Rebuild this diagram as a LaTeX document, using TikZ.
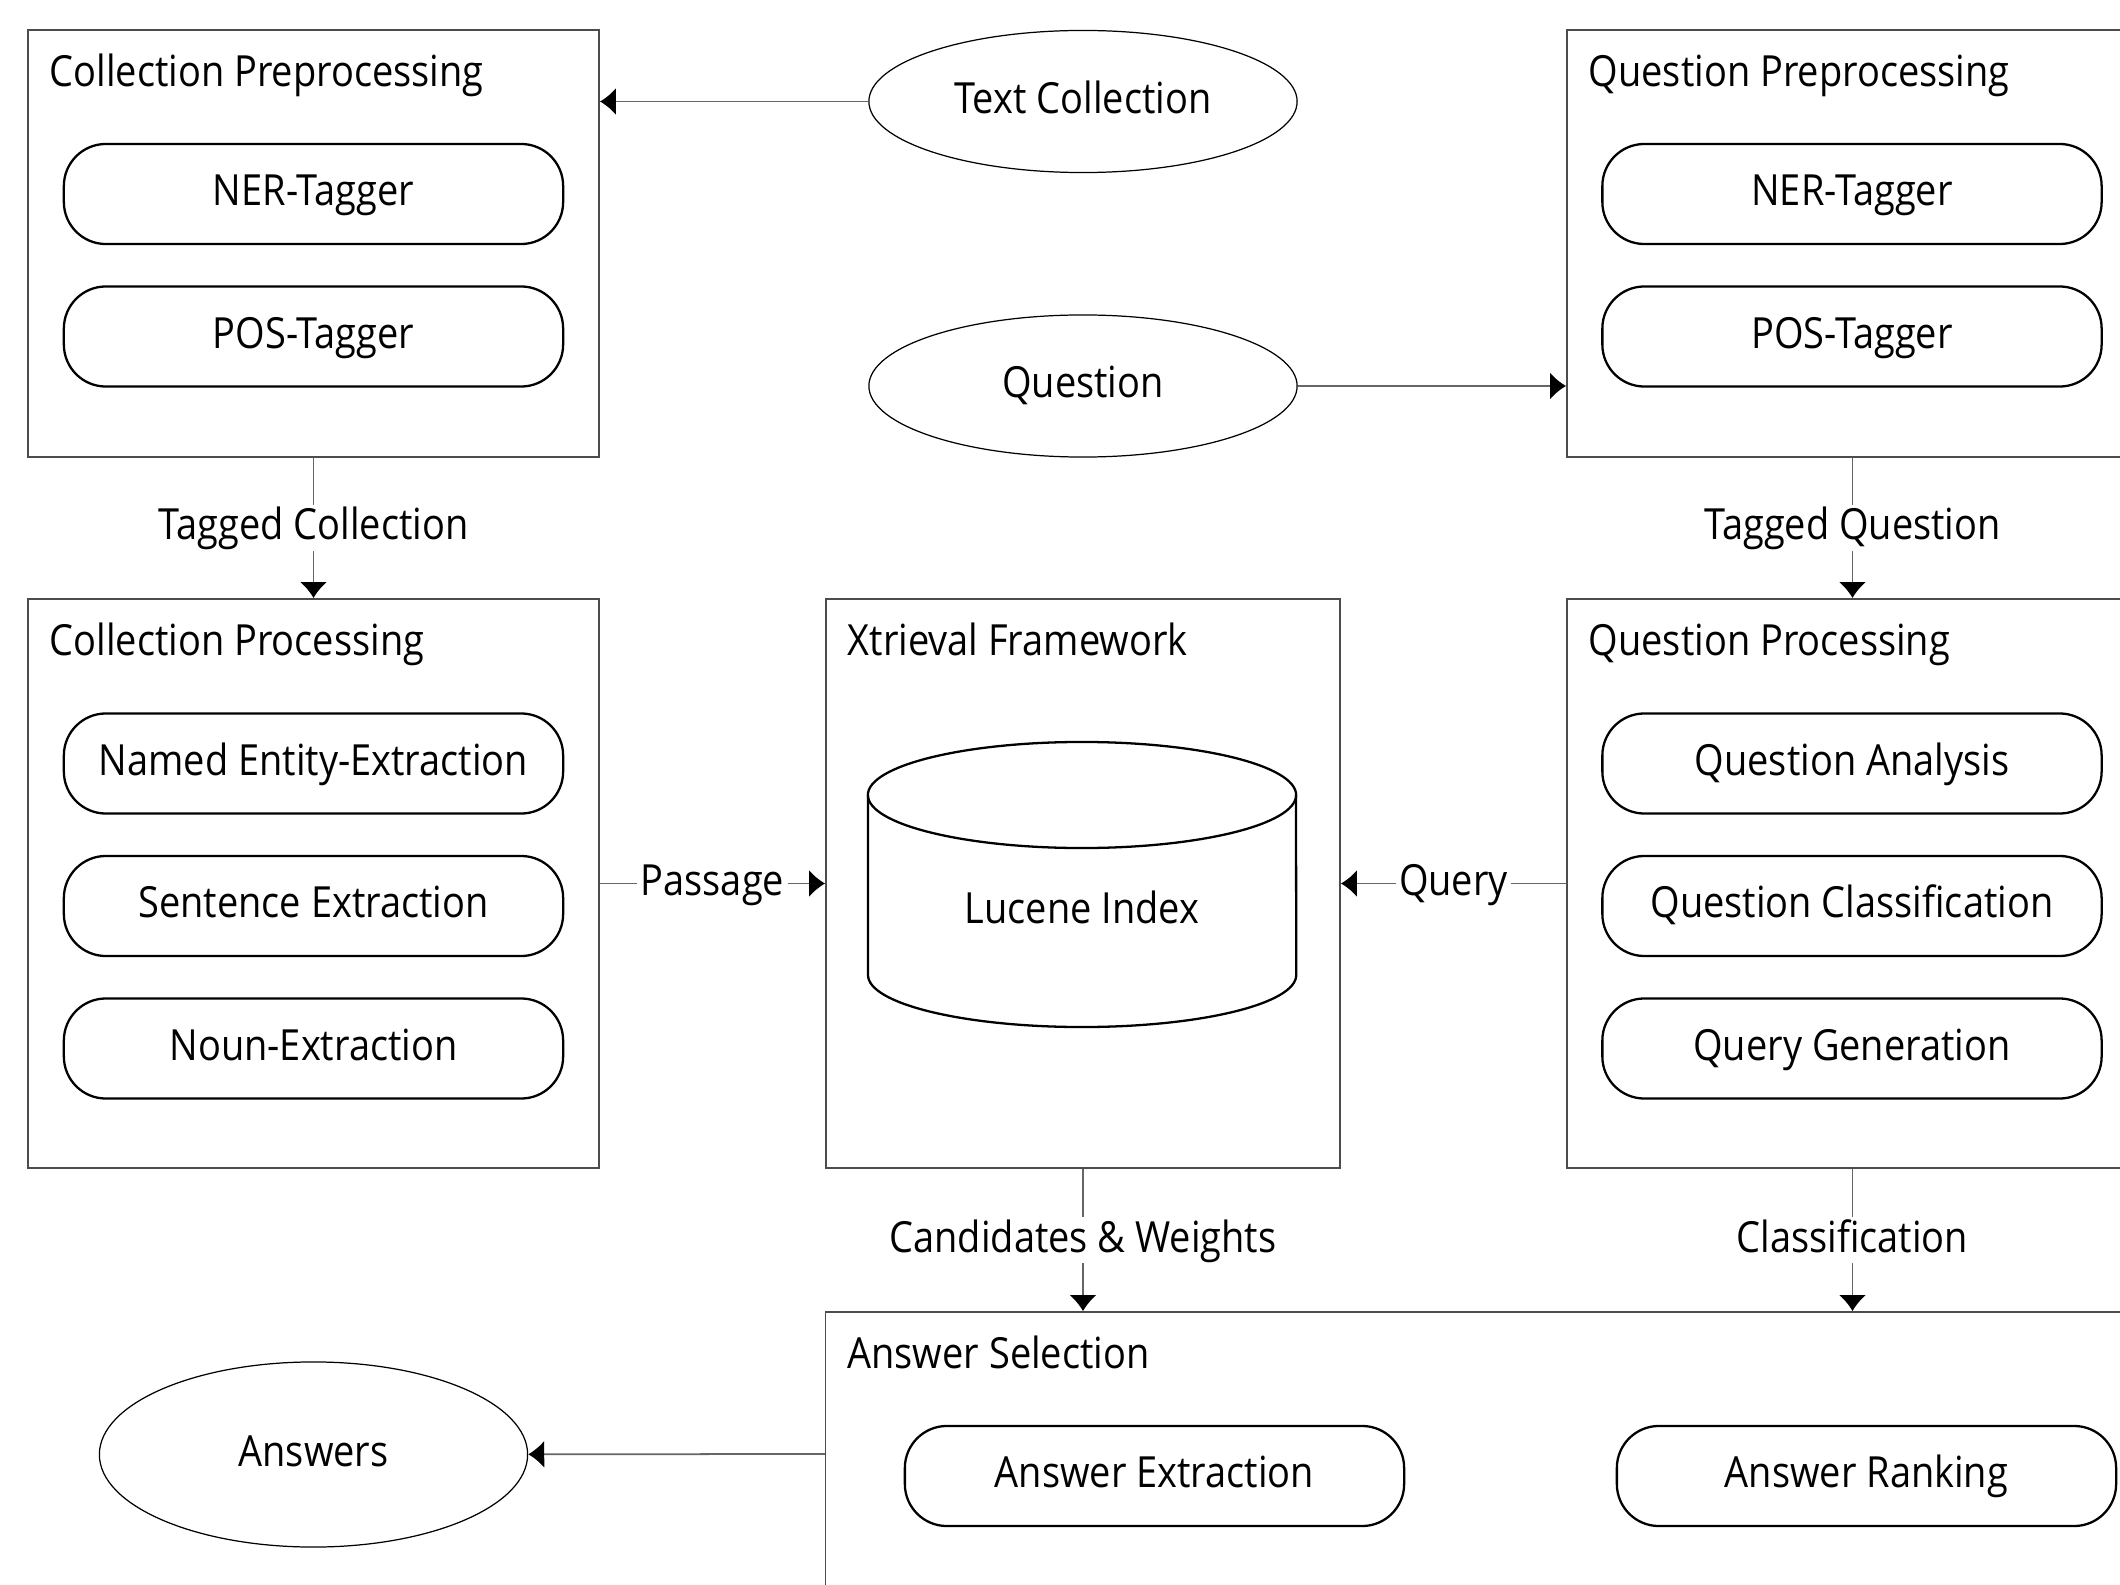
\documentclass[tikz,border=0pt]{standalone}
\usepackage{fontspec}
\setmainfont{Open Sans}[FakeStretch=0.885]
\usepackage{tikz}
\usetikzlibrary{arrows.meta,positioning,calc,shapes.geometric}

\begin{document}
\begin{tikzpicture}[x=0.01cm, y=-0.01cm,
  every node/.style={font=\fontsize{12.2}{14}\selectfont, text height=0.9em, text depth=0.22em},
  panel/.style={draw=black!70, line width=0.45pt, minimum width=5.71cm, inner sep=0pt},
  head/.style={anchor=base west, inner sep=0pt},
  tool/.style={draw=black, line width=0.65pt, rounded corners=0.42cm, minimum width=4.99cm, minimum height=1cm, inner sep=2pt},
  blob/.style={ellipse, draw=black, line width=0.35pt, minimum width=4.28cm, minimum height=1.42cm, inner sep=0pt},
  db/.style={draw=black, line width=0.65pt},
  arr/.style={draw=black!60, line width=0.5pt, -{Latex[length=1.6mm, width=2.7mm, color=black]}},
  lab/.style={fill=white, inner sep=1pt}
]
\clip (0,0) rectangle (2120,1585);

\node[panel, minimum height=4.27cm] (collpre) at (313.5,243.5) {};
\node[head] (collpretitle) at ($(collpre.north west)+(22,57)$) {Collection Preprocessing};
\node[tool] (cner) at (313.5,194)   {NER-Tagger};
\node[tool] (cpos) at (313.5,336.5) {POS-Tagger};

\node[panel, minimum height=5.69cm] (colproc) at (313.5,883.5) {};
\node[head] (colproctitle) at ($(colproc.north west)+(22,57)$) {Collection Processing};
\node[tool] (nee)  at (313.5,763.5)  {Named Entity-Extraction};
\node[tool] (sent) at (313.5,906)    {Sentence Extraction};
\node[tool] (noun) at (313.5,1048.5) {Noun-Extraction};

\node[blob] (textcol)  at (1083,101.5) {Text Collection};
\node[blob] (question) at (1083,386)   {Question};

\node[panel, minimum width=5.14cm, minimum height=5.69cm] (xtrieval) at (1083,883.5) {};
\node[head] (xtrievaltitle) at ($(xtrieval.north west)+(22,57)$) {Xtrieval Framework};
\coordinate (dbtop) at (1082,795);
\coordinate (dbbot) at (1082,975);
\draw[db] (dbtop) ellipse [x radius=2.14cm, y radius=0.53cm];
\draw[db] ($(dbtop)+(-214,0)$) -- ($(dbbot)+(-214,0)$) arc[start angle=180, end angle=360, x radius=2.14cm, y radius=0.52cm] -- ($(dbtop)+(214,0)$);
\node (lucene) at (1082,912) {Lucene Index};

\node[panel, minimum height=4.27cm] (qpre) at (1852.5,243.5) {};
\node[head] (qpretitle) at ($(qpre.north west)+(22,57)$) {Question Preprocessing};
\node[tool] (qner) at (1852,194)   {NER-Tagger};
\node[tool] (qpos) at (1852,336.5) {POS-Tagger};

\node[panel, minimum height=5.69cm] (qproc) at (1852.5,883.5) {};
\node[head] (qproctitle) at ($(qproc.north west)+(22,57)$) {Question Processing};
\node[tool] (qana)  at (1852,763.5)  {Question Analysis};
\node[tool] (qclass) at (1852,906)   {Question Classification};
\node[tool] (qgen)  at (1852,1048.5) {Query Generation};

\node[panel, minimum width=13.12cm, minimum height=2.84cm] (anssel) at (1482,1454) {};
\node[head] (ansseltitle) at ($(anssel.north west)+(22,57)$) {Answer Selection};
\node[tool] (ansext)  at (1154.5,1476) {Answer Extraction};
\node[tool] (ansrank) at (1866.5,1476) {Answer Ranking};

\node[blob, minimum height=1.85cm] (answers) at (313.5,1454.5) {Answers};

\draw[arr] (textcol.west) -- (textcol.west -| collpre.east);
\draw[arr] (question.east) -- (question.east -| qpre.west);
\draw[arr] (collpre) -- node[lab]{Tagged Collection} (colproc);
\draw[arr] (qpre) -- node[lab]{Tagged Question} (qproc);
\draw[arr] (colproc) -- node[lab]{Passage} (xtrieval);
\draw[arr] (qproc) -- node[lab]{Query} (xtrieval);
\draw[arr] (xtrieval.south) -- node[lab]{Candidates \& Weights} (xtrieval.south |- anssel.north);
\draw[arr] (qproc.south) -- node[lab]{Classification} (qproc.south |- anssel.north);
\draw[arr] (anssel.west) -- (answers);
\end{tikzpicture}
\end{document}
